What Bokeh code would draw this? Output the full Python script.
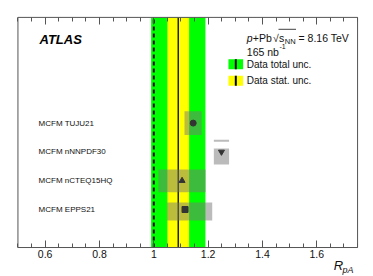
from bokeh.plotting import figure
from bokeh.models import (Range1d, LinearAxis, SingleIntervalTicker, CustomJSTickFormatter,
                          Label, ColumnDataSource)
from bokeh.core.properties import value
from bokeh.embed import file_html
from bokeh.resources import INLINE

# ---- data ----
models = ["MCFM EPPS21", "MCFM nCTEQ15HQ", "MCFM nNNPDF30", "MCFM TUJU21"]
rows = [1, 2, 3, 4]
theory_central = [1.115, 1.104, 1.249, 1.145]
theory_markers = ["square", "triangle", "inverted_triangle", "circle"]
theory_lo = [1.049, 1.017, 1.221, 1.113]
theory_hi = [1.215, 1.191, 1.277, 1.176]
box_bottom = [0.62, 1.60, 2.56, 3.59]
box_top = [1.24, 2.39, 3.12, 4.41]
# nNNPDF30 extra upper band
extra_lo = [1.221]
extra_hi = [1.277]
extra_bottom = [3.35]
extra_top = [3.42]

data_central = 1.09
stat_lo, stat_hi = 1.05, 1.13
total_lo, total_hi = 0.99, 1.19
ref_value = 1.0

x_min, x_max = 0.5, 1.75       # visible axis range
y_min, y_max = -0.32, 7.67     # visible row range
x_tick_interval = 0.2
legend_labels = ["Data total unc.", "Data stat. unc."]
legend_colors = ["#00ff00", "#ffff00"]

FONT = "Liberation Sans"
TXT = "#111111"
FRAME = "#555555"

W, H = 373, 276

# pixel helpers for annotation placement (page px -> data)
def X(px):
    return 1 + (px - 153.3) / 271.7

def Y(py):
    return 1 + (209 - py) / 28.8

p = figure(width=W, height=H, x_range=Range1d(X(0), X(W)), y_range=Range1d(Y(H), Y(0)),
           output_backend="svg", toolbar_location=None, x_axis_location=None,
           y_axis_location=None, min_border=0, min_border_left=0, min_border_right=0,
           min_border_top=0, min_border_bottom=0)
p.xgrid.visible = False
p.ygrid.visible = False
p.outline_line_color = None
p.background_fill_color = "white"
p.border_fill_color = "white"

ticker = SingleIntervalTicker(interval=x_tick_interval, num_minor_ticks=4)
fmt = CustomJSTickFormatter(code="return String(Math.round(tick*10)/10)")

bottom = LinearAxis(ticker=ticker, formatter=fmt, fixed_location=y_min, bounds=(x_min, x_max),
                    axis_line_color=None, major_tick_in=7, major_tick_out=0,
                    minor_tick_in=4, minor_tick_out=0,
                    major_tick_line_color=FRAME, minor_tick_line_color=FRAME,
                    major_label_standoff=2, major_label_text_font=FONT,
                    major_label_text_font_size="10.5px", major_label_text_color=TXT)
p.add_layout(bottom, "below")
top = LinearAxis(ticker=ticker, formatter=CustomJSTickFormatter(code="return ''"),
                 fixed_location=y_max, bounds=(x_min, x_max), axis_line_color=None,
                 major_tick_in=7, major_tick_out=0, minor_tick_in=4, minor_tick_out=0,
                 major_tick_line_color=FRAME, minor_tick_line_color=FRAME,
                 major_label_text_font_size="10px", major_label_standoff=0)
p.add_layout(top, "above")

# data bands
p.quad(left=[total_lo], right=[total_hi], bottom=[y_min], top=[y_max],
       fill_color=legend_colors[0], line_color=None)
p.quad(left=[stat_lo], right=[stat_hi], bottom=[y_min], top=[y_max],
       fill_color=legend_colors[1], line_color=None)
p.segment(x0=[ref_value], x1=[ref_value], y0=[y_min], y1=[y_max],
          line_color="black", line_width=2, line_dash="4 3")
p.segment(x0=[data_central], x1=[data_central], y0=[y_min], y1=[y_max],
          line_color="#222222", line_width=1.5)

# theory boxes
src = ColumnDataSource(dict(model=models, row=rows, c=theory_central, m=theory_markers,
                            lo=theory_lo, hi=theory_hi, b=box_bottom, t=box_top))
p.quad(left="lo", right="hi", bottom="b", top="t", source=src,
       fill_color="#777777", fill_alpha=0.5, line_color=None)
p.quad(left=extra_lo, right=extra_hi, bottom=extra_bottom, top=extra_top,
       fill_color="#777777", fill_alpha=0.5, line_color=None)
p.scatter(x="c", y="row", marker="m", source=src, size=6,
          fill_color="#333333", line_color="#333333")

# frame box
p.quad(left=[x_min], right=[x_max], bottom=[y_min], top=[y_max],
       fill_color=None, line_color=FRAME, line_width=1)

# model labels
p.text(x=0.576, y="row", text="model", source=src, text_font=value(FONT),
       text_font_size="8px", text_baseline="middle", text_align="left", text_color=TXT)

# ATLAS label
p.add_layout(Label(x=X(39), y=Y(46), text="ATLAS", text_font=FONT,
                   text_font_style="bold italic", text_font_size="13px", text_color="black"))

# header text
def lab(x, y, t, size="10.5px", style="normal"):
    p.add_layout(Label(x=x, y=y, text=t, text_font=FONT, text_font_size=size,
                       text_font_style=style, text_color=TXT, text_baseline="alphabetic"))

lab(X(246.3), Y(37.7), "p", style="italic")
lab(X(252.3), Y(37.7), "+Pb")
lab(X(272.5), Y(37.7), "\u221a")
lab(X(278.5), Y(37.7), "s")
lab(X(284.3), Y(40.5), "NN", size="7.5px")
lab(X(298), Y(37.7), "= 8.16 TeV")
p.segment(x0=[X(278)], x1=[X(295.5)], y0=[Y(28.8)], y1=[Y(28.8)], line_color=TXT, line_width=0.8)
lab(X(246.3), Y(51), "165 nb")
lab(X(279), Y(45.5), "-1", size="7px")

# legend
leg_y = [Y(63.7), Y(80.3)]
leg_src = ColumnDataSource(dict(label=legend_labels, color=legend_colors, y=leg_y))
p.rect(x=X(235.3), y="y", width=X(242.7) - X(228), height=10 / 28.8,
       fill_color="color", line_color=None, source=leg_src)
p.rect(x=X(235.3), y="y", width=2 / 271.7, height=10 / 28.8,
       fill_color="black", line_color=None, source=leg_src)
p.text(x=X(246.3), y="y", text="label", source=leg_src, text_font=value(FONT),
       text_font_size="10px", text_baseline="middle", text_color=TXT)

# axis title
lab(X(333.3), Y(265), "R", size="13px", style="italic")
lab(X(342), Y(269), "pA", size="9px", style="italic")

open("out.html", "w").write(file_html(p, INLINE))
